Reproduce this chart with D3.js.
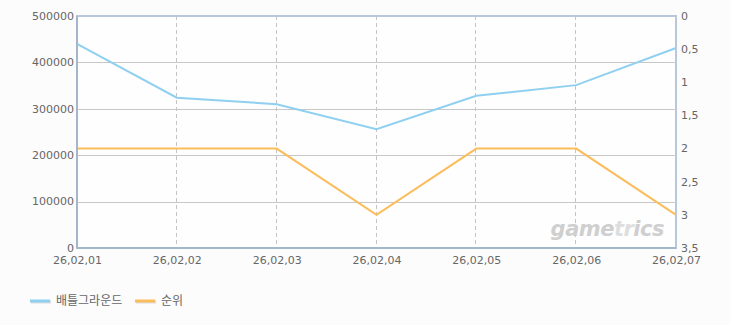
<!DOCTYPE html>
<html>
<head>
<meta charset="utf-8">
<script src="https://cdn.jsdelivr.net/npm/d3@7"></script>
<style>
  body { margin: 0; background: #fcfcfc; }
  svg { display: block; }
  .tick text { font-family: "DejaVu Sans", sans-serif; font-size: 11px; fill: #666; }
</style>
</head>
<body>
<div class="chart"></div>
<script>
var dates = ["26,02,01", "26,02,02", "26,02,03", "26,02,04", "26,02,05", "26,02,06", "26,02,07"];
var users = [440000, 324000, 310000, 256000, 328000, 351000, 431000];
var ranks = [2, 2, 2, 3, 2, 2, 3];
var leftTicks = [0, 100000, 200000, 300000, 400000, 500000];
var rightTicks = ["0", "0,5", "1", "1,5", "2", "2,5", "3", "3,5"];
var seriesNames = ["배틀그라운드", "순위"];
var colors = ["#8fd0f0", "#fbbd5c"];

var W = 730, H = 325;
var margin = {top: 16, right: 54, bottom: 77, left: 77},
    width = W - margin.left - margin.right,
    height = H - margin.top - margin.bottom;

var svg = d3.select(".chart").append("svg")
    .attr("width", W)
    .attr("height", H);

var g = svg.append("g")
    .attr("transform", "translate(" + margin.left + "," + margin.top + ")");

var x = d3.scalePoint().domain(dates).range([0, width]);
var yL = d3.scaleLinear().domain([0, 500000]).range([height, 0]);
var yR = d3.scaleLinear().domain([0, 3.5]).range([0, height]);

// plot background
g.append("rect")
    .attr("width", width).attr("height", height)
    .style("fill", "#fefefe");

// horizontal grid
g.selectAll(".hgrid")
    .data(leftTicks.slice(1, -1))
    .enter().append("line")
    .attr("x1", 0).attr("x2", width)
    .attr("y1", function(d) { return Math.round(yL(d)) + 0.5; })
    .attr("y2", function(d) { return Math.round(yL(d)) + 0.5; })
    .style("stroke", "#c8c8c8");

// vertical dashed grid
g.selectAll(".vgrid")
    .data(dates.slice(1, -1))
    .enter().append("line")
    .attr("x1", function(d) { return Math.round(x(d)) - 0.5; })
    .attr("x2", function(d) { return Math.round(x(d)) - 0.5; })
    .attr("y1", 0).attr("y2", height)
    .style("stroke", "#c4c4c4")
    .style("stroke-dasharray", "4,3");

// watermark
var wm = g.append("text")
    .attr("x", width - 12).attr("y", height - 12)
    .attr("text-anchor", "end")
    .style("font-family", "'DejaVu Sans', sans-serif")
    .style("font-size", "21px")
    .style("font-weight", "bold")
    .style("font-style", "italic")
    .style("letter-spacing", "-0.5px")
    .style("fill", "#cfcfcf");
wm.append("tspan").text("game");
wm.append("tspan").style("fill", "#dedede").text("tr");
wm.append("tspan").text("ics");

// lines
var lineL = d3.line()
    .x(function(d, i) { return x(dates[i]); })
    .y(function(d) { return yL(d); });
var lineR = d3.line()
    .x(function(d, i) { return x(dates[i]); })
    .y(function(d) { return yR(d); });

g.append("path").datum(users)
    .attr("d", lineL)
    .style("fill", "none").style("stroke", colors[0]).style("stroke-width", 2);
g.append("path").datum(ranks)
    .attr("d", lineR)
    .style("fill", "none").style("stroke", colors[1]).style("stroke-width", 2);

// frame
g.append("rect")
    .attr("x", 0).attr("y", 0).attr("width", width).attr("height", height)
    .style("fill", "none").style("stroke", "#b8c8da").style("stroke-width", 2);
g.append("line").attr("x1", 0).attr("x2", 0).attr("y1", 0).attr("y2", height)
    .style("stroke", "#a4b6ca").style("stroke-width", 2);
g.append("line").attr("x1", 0).attr("x2", width).attr("y1", height).attr("y2", height)
    .style("stroke", "#a4b6ca").style("stroke-width", 2);

// axes
var axL = g.append("g")
    .call(d3.axisLeft(yL).tickValues(leftTicks).tickSize(0).tickPadding(3).tickFormat(d3.format("d")));
var axR = g.append("g")
    .attr("transform", "translate(" + width + ",0)")
    .call(d3.axisRight(yR).tickValues(d3.range(0, 3.51, 0.5)).tickSize(0).tickPadding(5)
      .tickFormat(function(d, i) { return rightTicks[i]; }));
var axB = g.append("g")
    .attr("transform", "translate(0," + height + ")")
    .call(d3.axisBottom(x).tickSize(0).tickPadding(9));
[axL, axR, axB].forEach(function(a) { a.select(".domain").remove(); });
axB.selectAll("text").attr("dy", "0.6em");
axL.selectAll("text").attr("dy", "0.3em");
axR.selectAll("text").attr("dy", "0.3em");

// legend
var legend = svg.append("g").attr("transform", "translate(30,301)");
var items = legend.selectAll(".item")
    .data(seriesNames)
    .enter().append("g")
    .attr("transform", function(d, i) { return "translate(" + (i * 105) + ",0)"; });
items.append("line")
    .attr("x1", 1).attr("x2", 21).attr("y1", 1).attr("y2", 1)
    .style("stroke", "#dddddd").style("stroke-width", 3);
items.append("line")
    .attr("x1", 0).attr("x2", 20).attr("y1", 0).attr("y2", 0)
    .style("stroke", function(d, i) { return colors[i]; }).style("stroke-width", 3);
items.append("text")
    .attr("x", 26).attr("y", 4)
    .style("font-family", "'Noto Sans CJK KR', sans-serif")
    .style("font-size", "12px")
    .style("fill", "#666")
    .text(function(d) { return d; });
</script>
</body>
</html>
